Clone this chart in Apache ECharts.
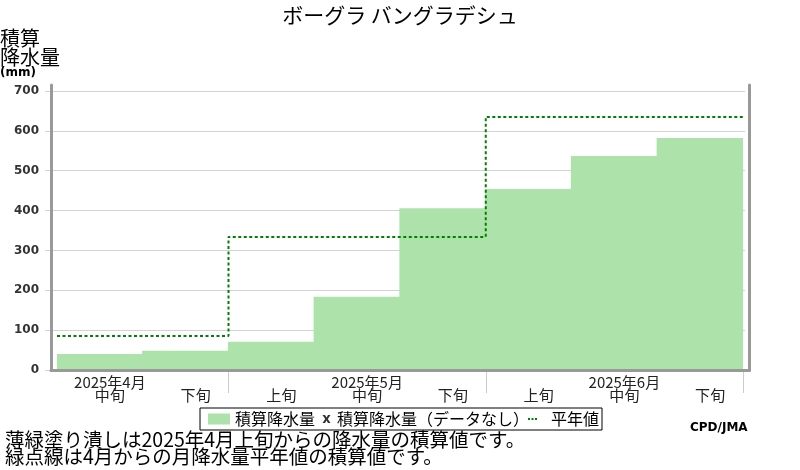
<!DOCTYPE html>
<html><head><meta charset="utf-8">
<script src="https://cdn.jsdelivr.net/npm/echarts@6/dist/echarts.min.js"></script>
<style>html,body{margin:0;padding:0;background:#fff}#c{width:800px;height:470px}</style>
</head><body><div id="c"></div>
<script>
const titleText = 'ボーグラ バングラデシュ';
const yAxisName = '積算\n降水量';
const yAxisUnit = '(mm)';
const dekads = ['4月中旬','4月下旬','5月上旬','5月中旬','5月下旬','6月上旬','6月中旬','6月下旬'];
const dekadLabels = ['中旬','下旬','上旬','中旬','下旬','上旬','中旬','下旬'];
const monthLabels = ['2025年4月','','','2025年5月','','','2025年6月',''];
const accumPrecip = [40, 48, 71, 184, 406, 454, 537, 582];
const monthBounds = [0, 2, 5, 8];
const normalAccum = [85, 334, 635];
const monthTickIdx = [2, 5];
const legendNames = ['積算降水量', '積算降水量（データなし）', '平年値'];
const notes = '薄緑塗り潰しは2025年4月上旬からの降水量の積算値です。\n緑点線は4月からの月降水量平年値の積算値です。';
const credit = 'CPD/JMA';

const normalLine = [];
for (let m = 0; m < normalAccum.length; m++) {
  normalLine.push([monthBounds[m], normalAccum[m]]);
  normalLine.push([monthBounds[m + 1], normalAccum[m]]);
}

const JP = "'Noto Sans CJK JP', sans-serif";
const frameLine = { show: true, onZero: false, lineStyle: { color: '#999', width: 3 } };
const xIcon = 'path://M0,0M22,11M12.5,1.5L15,1.5L16.5,4L18,1.5L20.5,1.5L17.8,5.5L20.5,9.5L18,9.5L16.5,7L15,9.5L12.5,9.5L15.2,5.5Z';
const dotIcon = 'path://M0,0M22,11M4,4.5h2v2h-2zM7.5,4.5h2v2h-2zM11,4.5h2v2h-2z';

const chart = echarts.init(document.getElementById('c'), null, { renderer: 'canvas' });
chart.setOption({
  animation: false,
  backgroundColor: '#fff',
  title: [
    { text: titleText, left: 'center', top: 5, padding: 0,
      textStyle: { fontSize: 21, fontWeight: 'normal', color: '#000', fontFamily: JP } },
    { text: yAxisName + '\n{u|' + yAxisUnit + '}', left: 0, top: 29, padding: 0,
      textStyle: { fontSize: 20, fontWeight: 'normal', color: '#000', fontFamily: JP, lineHeight: 19,
        rich: { u: { fontSize: 12, fontWeight: 'bold', fontFamily: 'DejaVu Sans', color: '#000', lineHeight: 12 } } } },
    { text: notes, left: 5, top: 431, padding: 0,
      textStyle: { fontSize: 19.5, fontWeight: 'normal', color: '#000', fontFamily: JP, lineHeight: 17 } },
    { text: credit, left: 690, top: 422, padding: 0,
      textStyle: { fontSize: 12, fontWeight: 'bold', color: '#000', fontFamily: 'DejaVu Sans' } }
  ],
  legend: {
    left: 200, top: 408,
    padding: [3, 3, 3, 8],
    borderColor: '#000', borderWidth: 1,
    itemWidth: 22, itemHeight: 11, itemGap: -5,
    itemStyle: { borderWidth: 0 },
    textStyle: { fontSize: 16, color: '#000', fontFamily: JP, lineHeight: 16 },
    data: [
      { name: legendNames[0], icon: 'rect' },
      { name: legendNames[1], icon: xIcon },
      { name: legendNames[2], icon: dotIcon }
    ]
  },
  grid: [
    { left: 57, right: 57, top: 91, bottom: 100 },
    { left: 45, right: 55, top: 91, bottom: 100 },
    { left: 51, right: 51, top: 85, bottom: 99.5 }
  ],
  xAxis: [
    { gridIndex: 0, type: 'category', data: dekads,
      axisLine: { show: false },
      axisTick: { show: true, length: 23, interval: (i) => monthTickIdx.indexOf(i) >= 0,
        lineStyle: { color: '#ccc', width: 1 } },
      axisLabel: { interval: 0, margin: 6, padding: [0, 0, 0, 20],
        fontSize: 15, lineHeight: 13, color: '#222', fontFamily: JP,
        formatter: (v, i) => monthLabels[i] + '\n' + dekadLabels[i] },
      splitLine: { show: false } },
    { gridIndex: 0, type: 'value', min: 0, max: 8, show: false },
    { gridIndex: 1, type: 'value', min: 0, max: 1, show: false },
    { gridIndex: 2, type: 'value', min: 0, max: 1, z: 5, axisLine: frameLine,
      axisTick: { show: false }, axisLabel: { show: false }, splitLine: { show: false } }
  ],
  yAxis: [
    { gridIndex: 0, type: 'value', min: 0, max: 700, interval: 100,
      axisLine: { show: false }, axisTick: { show: false }, splitLine: { show: false },
      axisLabel: { margin: 18, fontSize: 12, fontWeight: 'bold', color: '#333', fontFamily: 'DejaVu Sans' } },
    { gridIndex: 1, type: 'value', min: 0, max: 700, interval: 100,
      axisLine: { show: false }, axisTick: { show: false }, axisLabel: { show: false },
      splitLine: { show: true, lineStyle: { color: '#d3d3d3', width: 1 } } },
    { gridIndex: 2, type: 'value', position: 'left', min: 0, max: 1, z: 5, axisLine: frameLine,
      axisTick: { show: false }, axisLabel: { show: false }, splitLine: { show: false } },
    { gridIndex: 2, type: 'value', position: 'right', min: 0, max: 1, z: 5, axisLine: frameLine,
      axisTick: { show: false }, axisLabel: { show: false }, splitLine: { show: false } }
  ],
  series: [
    { name: legendNames[0], type: 'bar', xAxisIndex: 0, yAxisIndex: 0, data: accumPrecip,
      barWidth: 87, itemStyle: { color: '#ade3aa' } },
    { name: legendNames[1], type: 'scatter', xAxisIndex: 0, yAxisIndex: 0, data: [],
      itemStyle: { color: '#000' } },
    { name: legendNames[2], type: 'line', xAxisIndex: 1, yAxisIndex: 0, data: normalLine,
      symbol: 'none', itemStyle: { color: '#008000' },
      lineStyle: { color: '#008000', width: 2, type: [3, 2.5] }, z: 3 }
  ]
});
</script></body></html>
